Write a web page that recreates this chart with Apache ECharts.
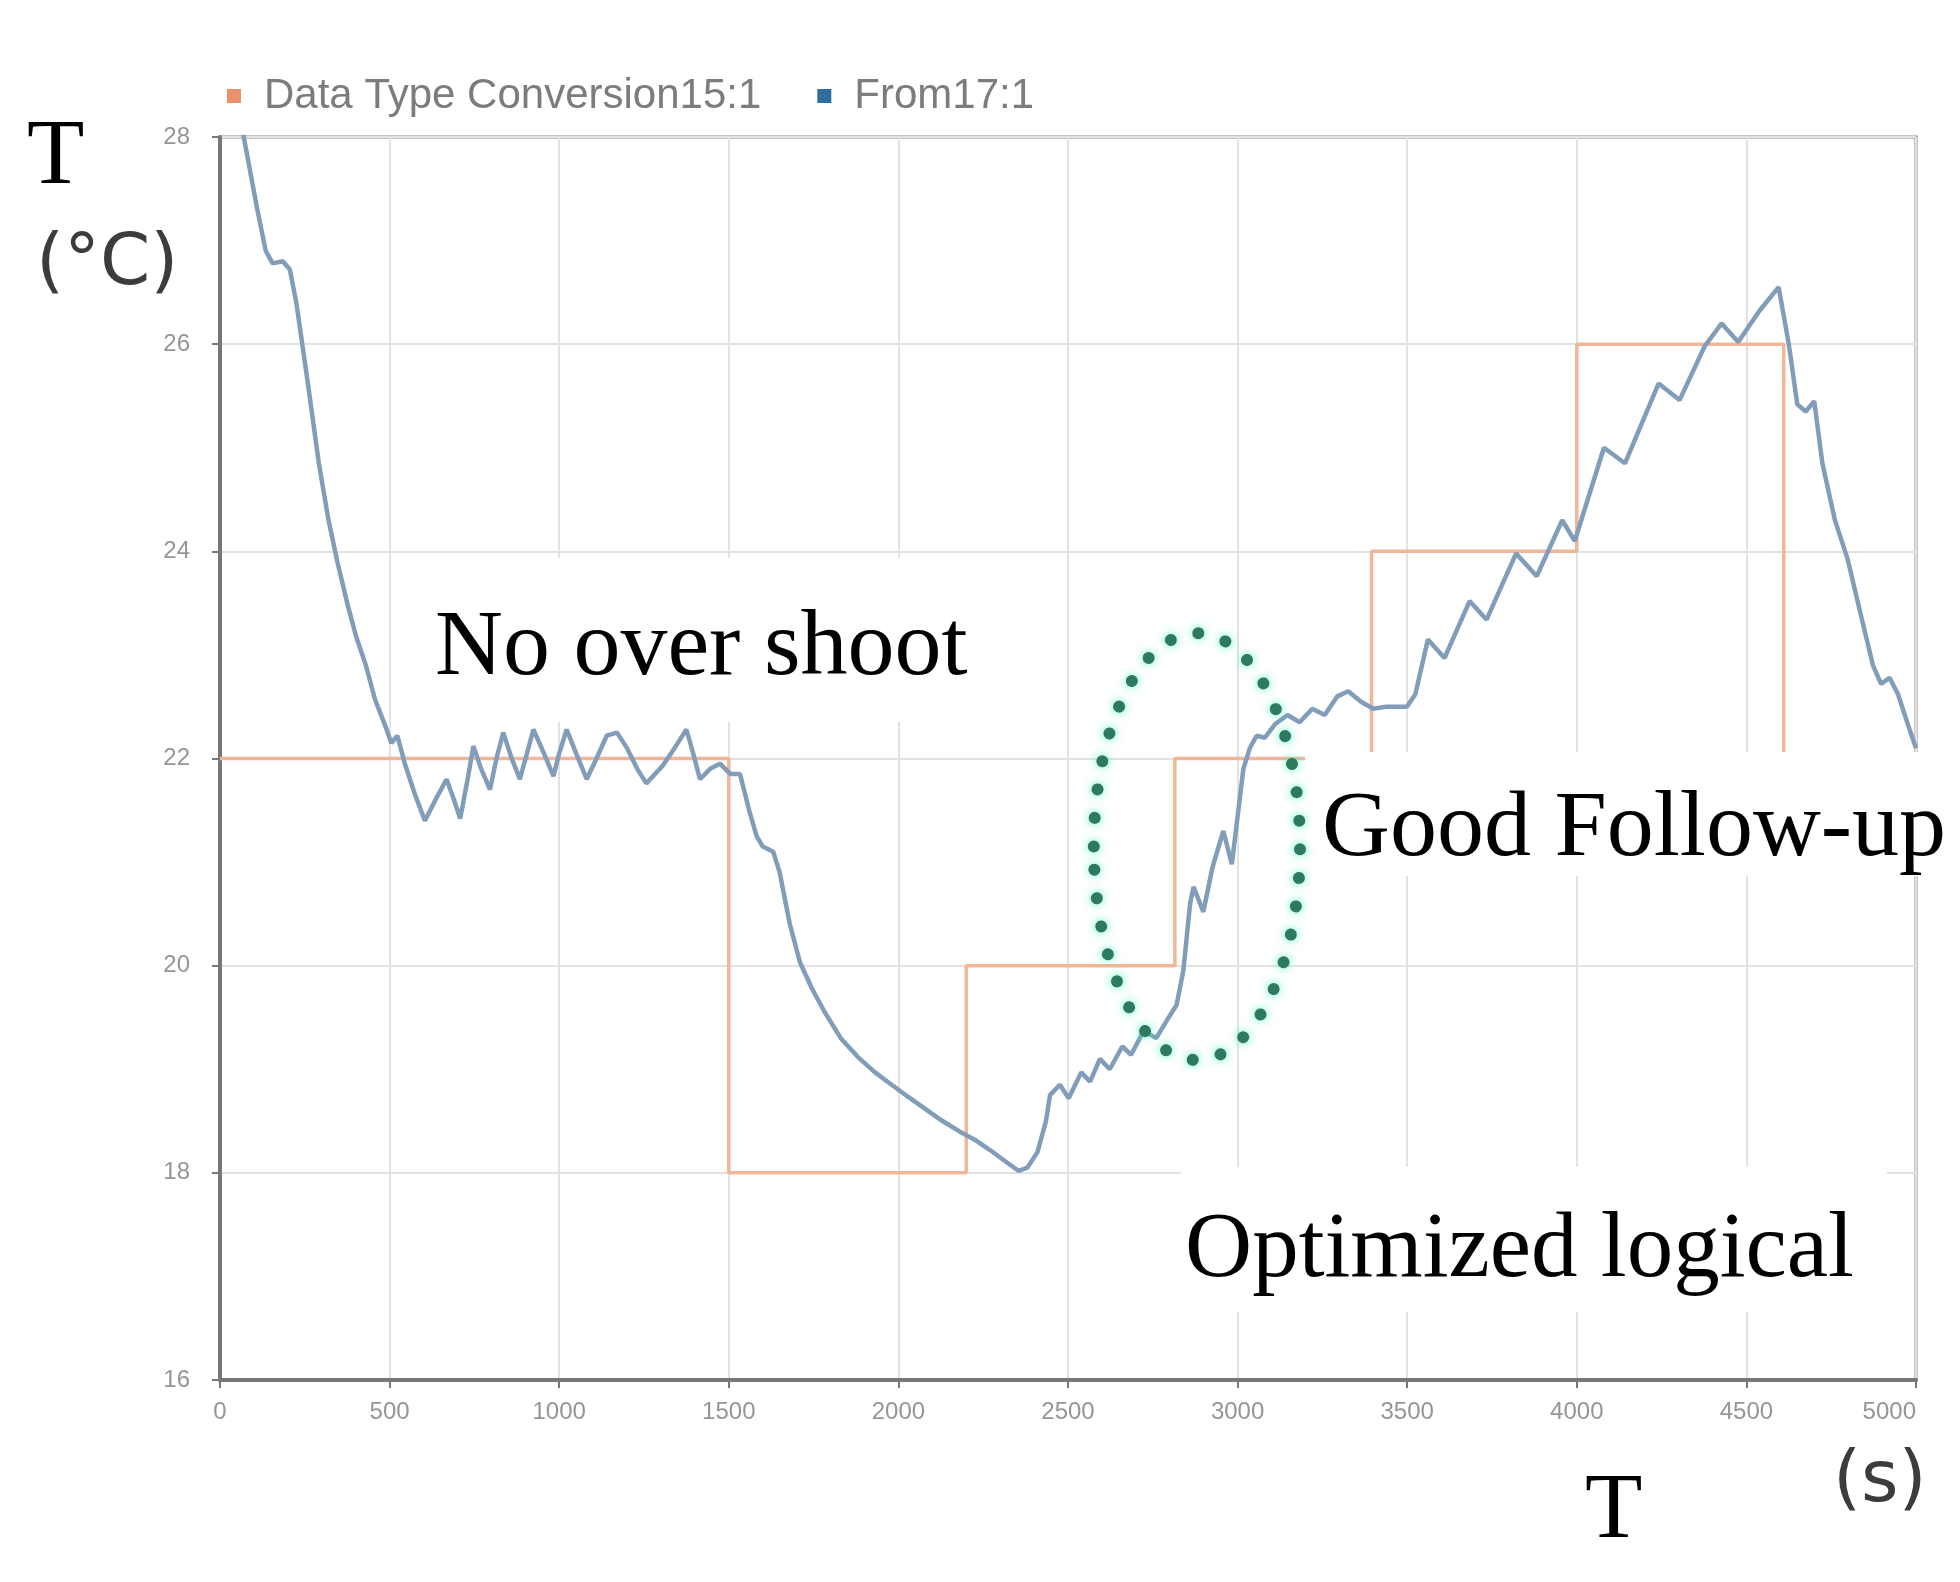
<!DOCTYPE html>
<html><head><meta charset="utf-8">
<script src="https://cdn.jsdelivr.net/npm/echarts@6/dist/echarts.min.js"></script>
<style>html,body{margin:0;padding:0;background:#fff}#c{width:1960px;height:1582px}</style>
</head><body><div id="c"></div>
<script>
// ---- data ----
const seriesNames = ['Data Type Conversion15:1', 'From17:1'];
const xMin = 0, xMax = 5000, xStep = 500;
const yMin = 16, yMax = 28, yStep = 2;

// setpoint (orange step signal): [time s, temperature °C]
const setpointTime = [0, 1500, 1500, 2200, 2200, 2815, 2815, 3395, 3395, 4000, 4000, 4610, 4610, 5000];
const setpointTemp = [22, 22, 18, 18, 20, 20, 22, 22, 24, 24, 26, 26, 22, 22];

// measured temperature (blue)
const measTime = [0, 70, 110, 135, 155, 185, 206, 225, 236, 260, 291, 320, 346, 375, 402, 430, 457, 489, 505, 523, 545, 575, 604, 635, 668, 690, 708, 730, 747, 770, 796, 815, 835, 860, 884, 905, 924, 955, 983, 1000, 1022, 1050, 1081, 1110, 1140, 1170, 1200, 1230, 1257, 1305, 1340, 1375, 1395, 1415, 1445, 1474, 1505, 1533, 1560, 1582, 1600, 1631, 1650, 1680, 1710, 1745, 1783, 1830, 1880, 1931, 1980, 2030, 2078, 2130, 2180, 2225, 2270, 2320, 2354, 2380, 2410, 2435, 2447, 2476, 2502, 2539, 2565, 2594, 2623, 2660, 2686, 2723, 2760, 2797, 2820, 2840, 2860, 2870, 2899, 2926, 2958, 2983, 3017, 3036, 3056, 3080, 3110, 3147, 3183, 3220, 3257, 3294, 3326, 3363, 3400, 3437, 3499, 3524, 3561, 3610, 3684, 3734, 3821, 3882, 3957, 3994, 4080, 4142, 4241, 4303, 4377, 4427, 4476, 4538, 4595, 4625, 4650, 4675, 4700, 4724, 4761, 4798, 4835, 4873, 4897, 4922, 4947, 4984, 5000];
const measTemp = [29.2, 28.0, 27.3, 26.9, 26.78, 26.8, 26.72, 26.4, 26.15, 25.6, 24.86, 24.3, 23.9, 23.5, 23.17, 22.9, 22.57, 22.3, 22.15, 22.22, 21.95, 21.65, 21.4, 21.6, 21.8, 21.6, 21.42, 21.8, 22.12, 21.9, 21.7, 22.0, 22.25, 22.0, 21.8, 22.05, 22.28, 22.05, 21.83, 22.05, 22.28, 22.05, 21.8, 22.0, 22.22, 22.25, 22.1, 21.9, 21.76, 21.93, 22.1, 22.28, 22.05, 21.8, 21.9, 21.95, 21.85, 21.85, 21.5, 21.25, 21.15, 21.1, 20.9, 20.4, 20.03, 19.78, 19.55, 19.3, 19.12, 18.97, 18.85, 18.73, 18.62, 18.5, 18.4, 18.32, 18.22, 18.1, 18.02, 18.05, 18.2, 18.5, 18.75, 18.85, 18.72, 18.97, 18.88, 19.1, 19.0, 19.22, 19.14, 19.37, 19.3, 19.5, 19.62, 19.95, 20.6, 20.76, 20.52, 20.95, 21.3, 20.98, 21.9, 22.1, 22.22, 22.2, 22.33, 22.42, 22.35, 22.48, 22.42, 22.6, 22.65, 22.55, 22.48, 22.5, 22.5, 22.62, 23.15, 22.97, 23.52, 23.34, 23.98, 23.76, 24.3, 24.1, 25.0, 24.85, 25.62, 25.46, 25.98, 26.2, 26.02, 26.32, 26.55, 26.0, 25.42, 25.35, 25.45, 24.85, 24.3, 23.93, 23.42, 22.9, 22.72, 22.78, 22.62, 22.25, 22.1];

// dotted ellipse annotation (data coords): centre and radii
const ellipseCenter = [2880, 21.15];
const ellipseRadii = [304, 2.06];

// ---- chart ----
const chart = echarts.init(document.getElementById('c'), null, {renderer: 'canvas'});
const zip = (a, b) => a.map((v, i) => [v, b[i]]);
const axisGrey = '#8a8a8a';
const labelGrey = '#959595';

chart.setOption({
  animation: false,
  backgroundColor: '#ffffff',
  legend: {
    left: 222, top: 70, icon: 'rect', itemWidth: 14, itemHeight: 14, itemGap: 56,
    textStyle: {fontSize: 42, color: '#7c7c7c', fontFamily: 'Liberation Sans', padding: [0, 0, 0, 18]},
    data: seriesNames
  },
  grid: {left: 220, top: 137, right: 44, bottom: 202, show: true, borderColor: axisGrey, borderWidth: 3, containLabel: false},
  xAxis: {
    type: 'value', min: xMin, max: xMax, interval: xStep,
    axisLine: {show: true, lineStyle: {color: '#777', width: 4}},
    axisTick: {show: true, length: 8, lineStyle: {color: '#777', width: 2}},
    axisLabel: {color: labelGrey, fontSize: 24, margin: 20, fontFamily: 'Liberation Sans', alignMaxLabel: 'right',
                formatter: v => String(v)},
    splitLine: {show: true, lineStyle: {color: '#e2e2e2', width: 2}}
  },
  yAxis: {
    type: 'value', min: yMin, max: yMax, interval: yStep,
    axisLine: {show: true, lineStyle: {color: '#777', width: 4}},
    axisTick: {show: true, length: 8, lineStyle: {color: '#777', width: 2}},
    axisLabel: {color: labelGrey, fontSize: 24, margin: 30, fontFamily: 'Liberation Sans'},
    splitLine: {show: true, lineStyle: {color: '#e2e2e2', width: 2}}
  },
  series: [
    {name: seriesNames[0], type: 'line', data: zip(setpointTime, setpointTemp), showSymbol: false,
     itemStyle: {color: '#e8936a'}, lineStyle: {color: '#f1b597', width: 3.5}, z: 2},
    {name: seriesNames[1], type: 'line', data: zip(measTime, measTemp), showSymbol: false,
     itemStyle: {color: '#2f6f9f'}, lineStyle: {color: '#819db9', width: 4.5}, z: 3, clip: true}
  ]
});

const c = chart.convertToPixel({gridIndex: 0}, ellipseCenter);
const e = chart.convertToPixel({gridIndex: 0}, [ellipseCenter[0] + ellipseRadii[0], ellipseCenter[1] + ellipseRadii[1]]);
const rx = Math.abs(e[0] - c[0]), ry = Math.abs(c[1] - e[1]);

const serif = '"Liberation Serif", "Times New Roman", serif';
const sans = '"DejaVu Sans", sans-serif';
function box(x, y, w, h) { return {type: 'rect', z: 100, shape: {x, y, width: w, height: h}, style: {fill: '#fff'}}; }
function txt(s, x, y, size, fam, color) {
  return {type: 'text', z: 101, x, y, style: {text: s, fontSize: size, fontFamily: fam, fill: color || '#000', verticalAlign: 'middle', align: 'left'}};
}

chart.setOption({
  graphic: [
    box(395, 558, 590, 164),
    txt('No over shoot', 435, 649, 94, serif),
    box(1305, 752, 640, 124),
    txt('Good Follow-up', 1322, 830, 94, serif),
    box(1181, 1167, 706, 145),
    txt('Optimized logical', 1185, 1252, 93, serif),
    txt('T', 27, 158, 94, serif),
    txt('T', 1585, 1512, 94, serif),
    txt('(°C)', 36, 265, 72, sans, '#3c3c3c'),
    txt('(s)', 1833, 1482, 72, sans, '#3c3c3c'),
    {type: 'ellipse', z: 102, shape: {cx: c[0], cy: c[1], rx, ry},
     style: {fill: 'none', stroke: '#2e7a5c', lineWidth: 12, lineDash: [0.01, 28.6], lineCap: 'round',
             shadowColor: 'rgba(70,245,195,0.9)', shadowBlur: 10}}
  ]
});
</script>
</body></html>
